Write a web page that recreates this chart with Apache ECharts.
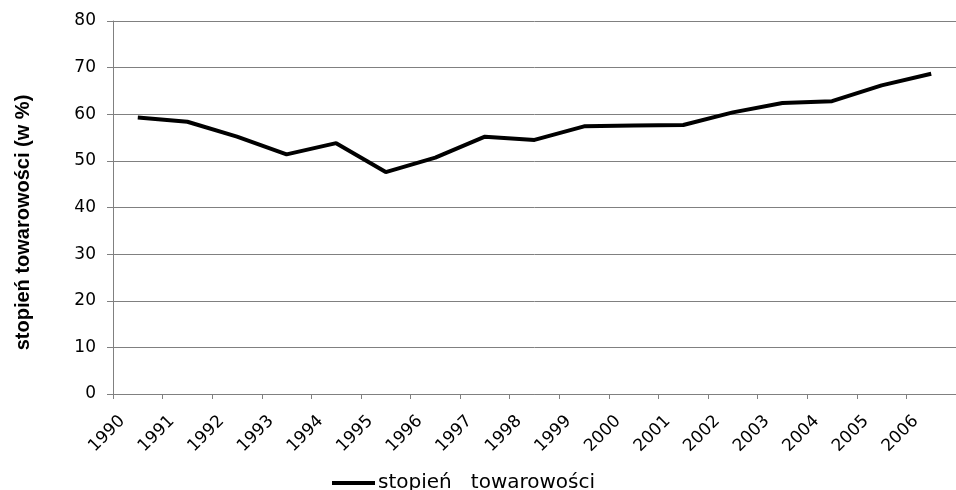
<!DOCTYPE html>
<html>
<head>
<meta charset="utf-8">
<script src="https://cdn.jsdelivr.net/npm/echarts@6/dist/echarts.min.js"></script>
<style>html,body{margin:0;padding:0;background:#fff;}#c{width:956px;height:490px;}</style>
</head>
<body>
<div id="c"></div>
<script>
const years = ['1990','1991','1992','1993','1994','1995','1996','1997','1998','1999','2000','2001','2002','2003','2004','2005','2006'];
const stopien = [59.3, 58.4, 55.2, 51.4, 53.8, 47.6, 50.7, 55.2, 54.5, 57.4, 57.6, 57.7, 60.4, 62.4, 62.8, 66.2, 68.7];
const yTicks = [0, 10, 20, 30, 40, 50, 60, 70, 80];
const seriesName = 'stopień   towarowości';
const yName = 'stopień towarowości (w %)';

const chart = echarts.init(document.getElementById('c'));
chart.setOption({
  animation: false,
  backgroundColor: '#fff',
  grid: { left: 113, width: 857, top: 21, bottom: 96, containLabel: false },
  legend: {
    left: 332, top: 473, padding: 0,
    icon: 'rect', itemWidth: 43, itemHeight: 4, itemGap: 10,
    textStyle: { fontFamily: 'DejaVu Sans', fontSize: 20, color: '#000', padding: [0, 0, 0, -2] },
    data: [seriesName]
  },
  xAxis: {
    type: 'category',
    data: years,
    boundaryGap: true,
    axisLine: { lineStyle: { color: '#808080', width: 1 } },
    axisTick: { show: true, length: 5, alignWithLabel: false, lineStyle: { color: '#808080' } },
    axisLabel: { rotate: 45, interval: 0, margin: 9, fontFamily: 'DejaVu Sans', fontSize: 17, color: '#000', padding: [0, 22, 0, 0] }
  },
  yAxis: {
    type: 'value',
    min: yTicks[0], max: yTicks[yTicks.length - 1], interval: 10,
    name: yName,
    nameLocation: 'middle',
    nameGap: 80,
    nameTextStyle: { fontFamily: 'Liberation Sans', fontSize: 20, fontWeight: 'bold', color: '#000', padding: [0, 30, 0, 0] },
    axisLine: { show: true, lineStyle: { color: '#808080', width: 1 } },
    axisTick: { show: true, length: 6, lineStyle: { color: '#808080' } },
    axisLabel: { margin: 17, fontFamily: 'DejaVu Sans', fontSize: 17, color: '#000' },
    splitLine: { show: true, lineStyle: { color: '#808080', width: 1 } }
  },
  series: [{
    name: seriesName,
    type: 'line',
    data: stopien,
    symbol: 'none',
    lineStyle: { color: '#000', width: 4 },
    itemStyle: { color: '#000' }
  }]
});
</script>
</body>
</html>
